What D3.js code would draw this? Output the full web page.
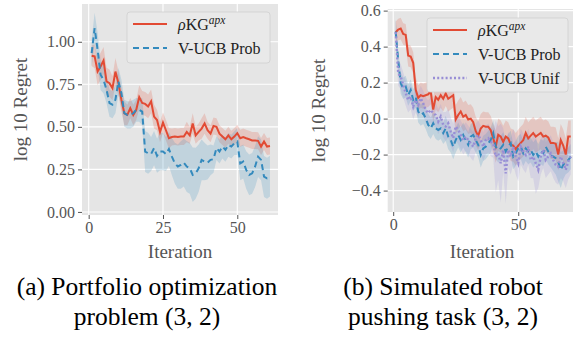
<!DOCTYPE html>
<html>
<head>
<meta charset="utf-8">
<script src="https://cdn.jsdelivr.net/npm/d3@7"></script>
<style>
  body { margin: 0; background: #fff; }
  svg { display: block; font-family: "Liberation Serif", "DejaVu Serif", serif; }
</style>
</head>
<body>
<svg id="fig" width="573" height="337"></svg>
<script>
// ---- data ----
const iterL = d3.range(1, 62);
const kgL = [0.918,0.914,0.825,0.855,0.89,0.767,0.757,0.727,0.825,0.757,
  0.66,0.58,0.57,0.61,0.57,0.6,0.675,0.64,0.635,0.62,
  0.65,0.56,0.54,0.47,0.525,0.48,0.433,0.44,0.443,0.44,
  0.443,0.443,0.47,0.45,0.52,0.45,0.47,0.49,0.52,0.48,
  0.46,0.505,0.5,0.46,0.443,0.427,0.45,0.427,0.443,0.463,
  0.433,0.44,0.433,0.427,0.42,0.42,0.418,0.384,0.414,0.384,0.388];
const kgLerr = [0.06,0.07,0.08,0.08,0.08,0.08,0.08,0.07,0.08,0.07,
  0.07,0.07,0.06,0.06,0.06,0.06,0.07,0.07,0.07,0.07,
  0.07,0.07,0.06,0.06,0.06,0.06,0.06,0.05,0.05,0.05,
  0.05,0.05,0.06,0.05,0.06,0.05,0.05,0.06,0.06,0.05,
  0.05,0.05,0.05,0.05,0.05,0.05,0.05,0.05,0.05,0.05,
  0.05,0.05,0.05,0.05,0.05,0.05,0.05,0.05,0.05,0.05,0.05];
const probL = [0.933,1.08,0.953,0.806,0.776,0.718,0.64,0.63,0.66,0.767,
  0.698,0.58,0.57,0.57,0.58,0.6,0.6,0.59,0.355,0.345,
  0.34,0.375,0.33,0.355,0.355,0.34,0.37,0.325,0.286,0.267,
  0.276,0.29,0.267,0.257,0.218,0.227,0.257,0.306,0.296,0.29,
  0.306,0.31,0.375,0.355,0.384,0.365,0.394,0.384,0.404,0.414,
  0.286,0.296,0.247,0.218,0.227,0.267,0.325,0.306,0.208,0.198,0.21];
const probLerr = [0.08,0.09,0.1,0.09,0.08,0.08,0.08,0.08,0.08,0.08,
  0.08,0.08,0.08,0.08,0.08,0.07,0.07,0.08,0.12,0.12,
  0.1,0.1,0.1,0.11,0.11,0.1,0.1,0.11,0.12,0.13,
  0.14,0.14,0.15,0.15,0.16,0.15,0.14,0.12,0.11,0.1,
  0.09,0.08,0.07,0.07,0.07,0.07,0.07,0.07,0.07,0.08,
  0.1,0.1,0.11,0.12,0.12,0.12,0.12,0.12,0.12,0.12,0.12];

const iterR = d3.range(1, 72);
const kgR = [0.48,0.495,0.5,0.47,0.465,0.35,0.345,0.31,0.16,0.115,
  0.13,0.125,0.13,0.135,0.15,0.05,0.12,0.105,0.13,0.11,
  0.14,0.11,0.12,0.13,-0.005,0.02,0.04,0.01,0.02,-0.005,
  0.0,-0.02,-0.07,-0.095,-0.055,-0.04,-0.045,-0.045,-0.065,-0.11,
  -0.155,-0.09,-0.1,-0.13,-0.1,-0.11,-0.145,-0.15,-0.17,-0.15,
  -0.135,-0.12,-0.08,-0.11,-0.095,-0.08,-0.1,-0.09,-0.08,-0.1,
  -0.095,-0.105,-0.135,-0.135,-0.14,-0.2,-0.12,-0.15,-0.2,-0.1,-0.1];
const kgRerr = [0.06,0.06,0.06,0.06,0.06,0.06,0.06,0.06,0.07,0.07,
  0.07,0.07,0.07,0.07,0.07,0.07,0.07,0.07,0.07,0.07,
  0.07,0.07,0.07,0.07,0.08,0.08,0.08,0.08,0.08,0.08,
  0.08,0.08,0.08,0.08,0.08,0.08,0.08,0.08,0.08,0.08,
  0.09,0.09,0.09,0.09,0.09,0.09,0.09,0.09,0.09,0.09,
  0.09,0.09,0.09,0.09,0.09,0.09,0.09,0.09,0.09,0.09,
  0.09,0.09,0.09,0.09,0.09,0.09,0.09,0.09,0.09,0.09,0.09];
const probR = [0.483,0.326,0.196,0.169,0.178,0.131,0.159,0.104,0.122,0.039,
  0.02,0.03,0.002,-0.035,-0.054,-0.026,-0.054,-0.063,-0.054,-0.081,
  -0.054,-0.1,-0.119,-0.156,-0.119,-0.091,-0.119,-0.091,-0.119,-0.146,
  -0.1,-0.091,-0.119,-0.146,-0.202,-0.165,-0.156,-0.137,-0.119,-0.081,
  -0.156,-0.174,-0.165,-0.146,-0.183,-0.156,-0.137,-0.211,-0.193,-0.165,
  -0.156,-0.193,-0.165,-0.183,-0.174,-0.202,-0.183,-0.211,-0.183,-0.193,
  -0.156,-0.183,-0.202,-0.211,-0.22,-0.239,-0.285,-0.257,-0.239,-0.23,-0.211];
const probRerr = [0.07,0.06,0.06,0.06,0.06,0.06,0.06,0.06,0.06,0.06,
  0.06,0.06,0.06,0.06,0.06,0.06,0.06,0.06,0.06,0.06,
  0.07,0.07,0.07,0.07,0.07,0.07,0.07,0.07,0.07,0.07,
  0.07,0.07,0.07,0.07,0.07,0.07,0.07,0.07,0.07,0.07,
  0.07,0.07,0.07,0.07,0.07,0.07,0.07,0.07,0.07,0.07,
  0.07,0.07,0.07,0.07,0.07,0.07,0.07,0.07,0.07,0.07,
  0.07,0.07,0.07,0.08,0.09,0.11,0.1,0.08,0.07,0.07,0.07];
const unifR = [0.48,0.252,0.233,0.187,0.141,0.104,0.122,0.067,0.104,0.076,
  0.113,0.085,0.048,0.03,0.048,0.03,0.02,-0.017,0.011,-0.035,
  -0.044,-0.026,-0.072,-0.109,-0.044,-0.063,-0.091,-0.119,-0.1,-0.119,
  -0.137,-0.156,-0.109,-0.091,-0.119,-0.156,-0.119,-0.109,-0.128,-0.137,
  -0.211,-0.193,-0.248,-0.174,-0.304,-0.174,-0.211,-0.156,-0.211,-0.248,
  -0.156,-0.183,-0.202,-0.156,-0.23,-0.211,-0.248,-0.285,-0.211,-0.174,
  -0.23,-0.211,-0.193,-0.23,-0.257,-0.267,-0.211,-0.248,-0.285,-0.239,-0.211];
const unifRerr = [0.07,0.07,0.07,0.07,0.07,0.07,0.07,0.07,0.07,0.07,
  0.07,0.07,0.07,0.07,0.07,0.07,0.07,0.07,0.07,0.07,
  0.08,0.08,0.08,0.08,0.08,0.08,0.08,0.08,0.08,0.08,
  0.08,0.08,0.08,0.08,0.08,0.08,0.08,0.08,0.08,0.08,
  0.2,0.15,0.22,0.12,0.17,0.1,0.1,0.1,0.1,0.1,
  0.1,0.1,0.1,0.1,0.1,0.12,0.17,0.1,0.1,0.1,
  0.1,0.1,0.1,0.1,0.1,0.1,0.12,0.1,0.1,0.1,0.1];

const ticksL = {x: [0, 25, 50], y: [0, 0.25, 0.5, 0.75, 1.0]};
const ticksR = {x: [0, 50], y: [-0.4, -0.2, 0, 0.2, 0.4, 0.6]};

const red = "#E24A33", blue = "#348ABD", purple = "#988ED5";

const svg = d3.select("#fig");

function panel(o) {
  let g = svg.append("g");
  let x = d3.scaleLinear().domain(o.xd).range(o.xr);
  let y = d3.scaleLinear().domain(o.yd).range(o.yr);
  let clipId = "clip" + o.id;

  g.append("clipPath").attr("id", clipId)
    .append("rect")
    .attr("x", o.xr[0]).attr("y", o.yr[1])
    .attr("width", o.xr[1] - o.xr[0]).attr("height", o.yr[0] - o.yr[1]);

  g.append("rect")
    .attr("x", o.xr[0]).attr("y", o.yr[1])
    .attr("width", o.xr[1] - o.xr[0]).attr("height", o.yr[0] - o.yr[1])
    .attr("fill", "#e5e5e5");

  // grid
  g.selectAll("line.gx").data(o.ticks.x).enter().append("line")
    .attr("x1", d => x(d)).attr("x2", d => x(d))
    .attr("y1", o.yr[0]).attr("y2", o.yr[1])
    .attr("stroke", "#fff").attr("stroke-width", 1.1);
  g.selectAll("line.gy").data(o.ticks.y).enter().append("line")
    .attr("y1", d => y(d)).attr("y2", d => y(d))
    .attr("x1", o.xr[0]).attr("x2", o.xr[1])
    .attr("stroke", "#fff").attr("stroke-width", 1.1);

  let plot = g.append("g").attr("clip-path", `url(#${clipId})`);

  o.series.forEach(function(s) {
    let pts = o.iter.map((it, i) => ({x: it, v: s.vals[i], e: s.err[i]}));
    plot.append("path")
      .datum(pts)
      .attr("fill", s.color).attr("fill-opacity", 0.2)
      .attr("d", d3.area().x(d => x(d.x)).y0(d => y(d.v - d.e)).y1(d => y(d.v + d.e)));
  });
  o.series.forEach(function(s) {
    let pts = o.iter.map((it, i) => ({x: it, v: s.vals[i]}));
    plot.append("path")
      .datum(pts)
      .attr("fill", "none").attr("stroke", s.color)
      .attr("stroke-width", s.width)
      .attr("stroke-dasharray", s.dash)
      .attr("stroke-linecap", s.cap || "butt")
      .attr("d", d3.line().x(d => x(d.x)).y(d => y(d.v)));
  });

  // axes
  let ax = g.append("g").attr("transform", `translate(0,${o.yr[0]})`)
    .call(d3.axisBottom(x).tickValues(o.ticks.x).tickSize(4).tickPadding(3).tickFormat(d3.format("d")));
  let ay = g.append("g").attr("transform", `translate(${o.xr[0]},0)`)
    .call(d3.axisLeft(y).tickValues(o.ticks.y).tickSize(4).tickPadding(3).tickFormat(d3.format(o.yfmt)));
  [ax, ay].forEach(function(a) {
    a.select(".domain").remove();
    a.selectAll(".tick line").attr("stroke", "#555").attr("stroke-width", 1);
    a.selectAll(".tick text").attr("fill", "#555")
      .style("font-family", "Liberation Serif").style("font-size", "16px");
  });

  g.append("text")
    .attr("transform", `translate(${o.ylabX},${(o.yr[0] + o.yr[1]) / 2}) rotate(-90)`)
    .attr("text-anchor", "middle").attr("fill", "#555").style("font-size", "19px")
    .text("log 10 Regret");
  g.append("text")
    .attr("x", o.xlabX).attr("y", 258)
    .attr("text-anchor", "middle").attr("fill", "#555").style("font-size", "19px")
    .text("Iteration");

  // legend
  let lg = g.append("g");
  lg.append("rect")
    .attr("x", o.leg.x).attr("y", o.leg.y).attr("width", o.leg.w).attr("height", o.leg.h)
    .attr("rx", 3).attr("fill", "#e9e9e9").attr("stroke", "#cfcfcf").attr("stroke-width", 0.8);
  o.series.forEach(function(s, i) {
    let ly = o.leg.y + 12 + i * 24;
    lg.append("line")
      .attr("x1", o.leg.x + 6).attr("x2", o.leg.x + 40)
      .attr("y1", ly).attr("y2", ly)
      .attr("stroke", s.color).attr("stroke-width", s.width)
      .attr("stroke-dasharray", s.dash).attr("stroke-linecap", s.cap || "butt");
    let t = lg.append("text")
      .attr("x", o.leg.x + 51).attr("y", ly + 5.5)
      .attr("fill", "#222").style("font-size", "16px");
    if (s.label === "KG") {
      t.append("tspan").style("font-style", "italic").text("ρ");
      t.append("tspan").text("KG");
      t.append("tspan").attr("dy", -6).style("font-style", "italic").style("font-size", "11.5px").text("apx");
    } else {
      t.text(s.label);
    }
  });
}

panel({
  id: "L", iter: iterL,
  xd: [-2.25, 63.7], xr: [82, 278],
  yd: [-0.018, 1.222], yr: [215, 4],
  ticks: ticksL, yfmt: ".2f",
  ylabX: 27, xlabX: 180,
  leg: {x: 127, y: 12, w: 143, h: 51},
  series: [
    {label: "KG", vals: kgL, err: kgLerr, color: red, width: 2, dash: null},
    {label: "V-UCB Prob", vals: probL, err: probLerr, color: blue, width: 2, dash: "6,4"}
  ]
});

panel({
  id: "R", iter: iterR,
  xd: [-2.2, 73.9], xr: [387.7, 578],
  yd: [-0.519, 0.609], yr: [212, 9],
  ticks: ticksR, yfmt: ".1f",
  ylabX: 325, xlabX: 482,
  leg: {x: 427, y: 18, w: 141, h: 74},
  series: [
    {label: "KG", vals: kgR, err: kgRerr, color: red, width: 2, dash: null},
    {label: "V-UCB Prob", vals: probR, err: probRerr, color: blue, width: 2, dash: "6,4"},
    {label: "V-UCB Unif", vals: unifR, err: unifRerr, color: purple, width: 2.4, dash: "2,2.2"}
  ]
});

// captions
const captions = [
  {x: 147, lines: ["(a) Portfolio optimization", "problem (3, 2)"]},
  {x: 443, lines: ["(b) Simulated robot", "pushing task (3, 2)"]}
];
captions.forEach(function(c) {
  c.lines.forEach(function(l, i) {
    svg.append("text")
      .attr("x", c.x).attr("y", 295 + i * 30)
      .attr("text-anchor", "middle").attr("fill", "#000").style("font-size", "25.5px")
      .text(l);
  });
});
</script>
</body>
</html>
